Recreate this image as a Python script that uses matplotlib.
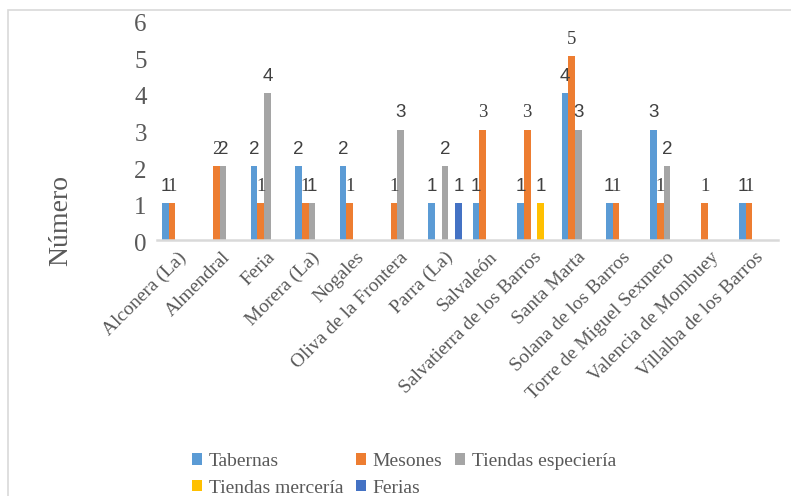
import matplotlib
matplotlib.use("Agg")
import matplotlib.pyplot as plt
from matplotlib.patches import Rectangle
from matplotlib.transforms import ScaledTranslation
import numpy as np

categories = [
    "Alconera (La)", "Almendral", "Feria", "Morera (La)", "Nogales",
    "Oliva de la Frontera", "Parra (La)", "Salvaleón",
    "Salvatierra de los Barros", "Santa Marta", "Solana de los Barros",
    "Torre de Miguel Sexmero", "Valencia de Mombuey", "Villalba de los Barros",
]
tabernas = [1, 0, 2, 2, 2, 0, 1, 1, 1, 4, 1, 3, 0, 1]
mesones = [1, 2, 1, 1, 1, 1, 0, 3, 3, 5, 1, 1, 1, 1]
tiendas_especieria = [0, 2, 4, 1, 0, 3, 2, 0, 0, 3, 0, 2, 0, 0]
tiendas_merceria = [0, 0, 0, 0, 0, 0, 0, 0, 1, 0, 0, 0, 0, 0]
ferias = [0, 0, 0, 0, 0, 0, 1, 0, 0, 0, 0, 0, 0, 0]

series = [
    ("Tabernas", tabernas, "#5B9BD5", "Liberation Sans"),
    ("Mesones", mesones, "#ED7D31", "Liberation Serif"),
    ("Tiendas especiería", tiendas_especieria, "#A5A5A5", "Liberation Sans"),
    ("Tiendas mercería", tiendas_merceria, "#FFC000", "Liberation Sans"),
    ("Ferias", ferias, "#4472C4", "Liberation Sans"),
]

W, H = 791, 496
fig = plt.figure(figsize=(W / 100, H / 100), dpi=100)
ax = fig.add_axes([156.5 / W, 1 - 239.7 / H, (778 - 156.5) / W, (239.7 - 19.5) / H])

# outer chart-area frame
fig.patches.append(Rectangle((8 / W, -0.1), 1.1, 1 - 10 / H + 0.1,
                             transform=fig.transFigure, fill=False,
                             edgecolor="#D9D9D9", linewidth=1.2))

x = np.arange(len(categories))
bw = 0.15
handles = {}
for k, (name, vals, color, lab_font) in enumerate(series):
    bars = ax.bar(x + (k - 2) * bw, vals, width=bw, color=color, label=name, zorder=2)
    handles[name] = bars
    labels = [str(v) if v else "" for v in vals]
    ax.bar_label(bars, labels=labels, padding=6, fontsize=13.5,
                 family=lab_font, color="#404040")

ax.set_xlim(-0.5, len(categories) - 0.5)
ax.set_ylim(0, 6)
ax.set_yticks(range(0, 7))
ax.tick_params(axis="y", length=0, pad=7, labelsize=18, labelcolor="#595959")
ydown = ScaledTranslation(0, -3 / 100, fig.dpi_scale_trans)
for t in ax.get_yticklabels():
    t.set_family("Liberation Serif")
    t.set_transform(t.get_transform() + ydown)

ax.set_xticks(x)
ax.set_xticklabels(categories, rotation=45, ha="right", va="center",
                   rotation_mode="anchor", family="Liberation Serif",
                   fontsize=14, color="#595959")
ax.tick_params(axis="x", length=0, pad=11)
xshift = ScaledTranslation(5 / 100, 0, fig.dpi_scale_trans)
for t in ax.get_xticklabels():
    t.set_transform(t.get_transform() + xshift)

for s in ["top", "right", "left"]:
    ax.spines[s].set_visible(False)
ax.spines["bottom"].set_color("#D9D9D9")
ax.spines["bottom"].set_linewidth(1.8)

fig.text(61 / W, 1 - 220 / H, "Número", rotation=90, ha="center", va="center",
         family="Liberation Serif", fontsize=20, color="#595959")

order = ["Tabernas", "Tiendas mercería", "Mesones", "Ferias", "Tiendas especiería"]
leg = fig.legend([handles[n] for n in order], order, ncol=3,
                 loc="upper left", bbox_to_anchor=(192 / W, 1 - 453 / H),
                 frameon=False, borderpad=0, borderaxespad=0,
                 handlelength=0.52, handleheight=0.52, handletextpad=0.36,
                 columnspacing=0.62, labelspacing=0.5,
                 prop={"family": "Liberation Serif", "size": 14})
for t in leg.get_texts():
    t.set_color("#595959")

fig.savefig("out.png", dpi=100)
